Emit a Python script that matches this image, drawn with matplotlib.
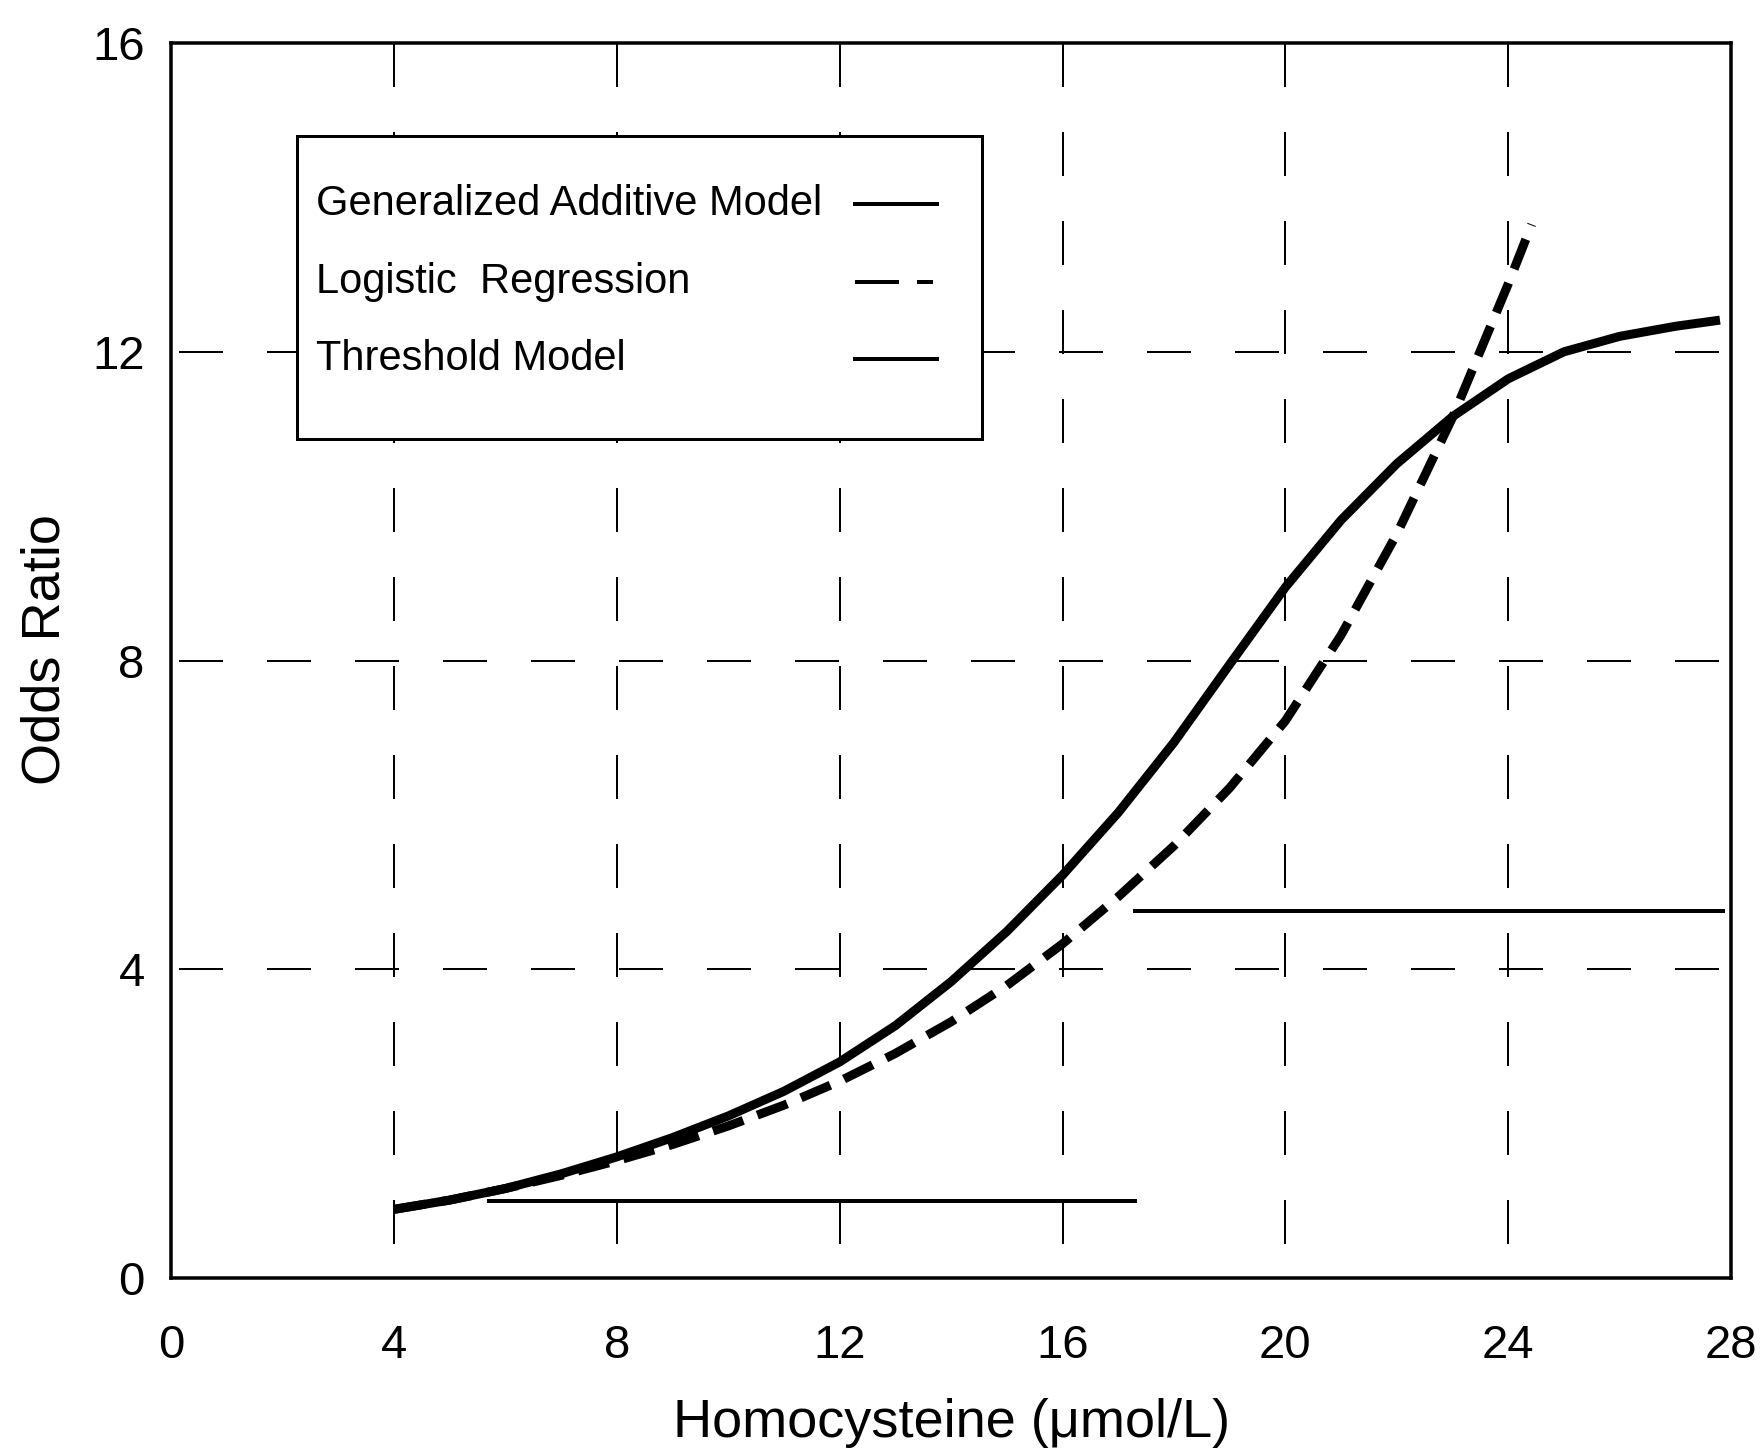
import numpy as np
import matplotlib
matplotlib.use("Agg")
import matplotlib.pyplot as plt
from matplotlib.patches import Rectangle

plt.rcParams['font.family'] = ['Liberation Sans', 'DejaVu Sans']
plt.rcParams['lines.scale_dashes'] = False

# values
gam_x = [4, 5, 6, 7, 8, 9, 10, 11, 12, 13, 14, 15, 16, 17, 18, 19, 20, 21, 22, 23,
         24, 25, 26, 27, 27.8]
gam_y = [0.89, 1.01, 1.16, 1.35, 1.57, 1.82, 2.10, 2.42, 2.80, 3.27, 3.84, 4.49, 5.22,
         6.03, 6.94, 7.95, 8.95, 9.82, 10.55, 11.16, 11.65, 12.00, 12.20, 12.33, 12.41]

logit_x = [4, 5, 6, 7, 8, 9, 10, 11, 12, 13, 14, 15, 16, 17, 18, 19, 20, 21, 22, 23,
           24, 24.42]
logit_y = [0.89, 1.01, 1.16, 1.33, 1.52, 1.73, 1.97, 2.24, 2.55, 2.91, 3.32, 3.79, 4.33,
           4.94, 5.60, 6.35, 7.22, 8.33, 9.64, 11.15, 12.88, 13.65]

thresh_low_x = [5.7, 17.3]
thresh_low_y = [1.0, 1.0]
thresh_high_x = [17.3, 27.85]
thresh_high_y = [4.76, 4.76]

x_ticks = [0, 4, 8, 12, 16, 20, 24, 28]
y_ticks = [0, 4, 8, 12, 16]
x_grid = [4, 8, 12, 16, 20, 24]
y_grid = [4, 8, 12]

legend_labels = ['Generalized Additive Model', 'Logistic  Regression', 'Threshold Model']

px = 0.72  # points per pixel at dpi 100

fig = plt.figure(figsize=(17.6, 14.53), dpi=100)
ax = fig.add_axes([0.0972, 0.1204, 0.8864, 0.850])
ax.set_xlim(0, 28)
ax.set_ylim(0, 16)

# dashed grid
for gx in x_grid:
    ax.plot([gx, gx], [16, 0], color='black', lw=2 * px,
            linestyle=(0, (44 * px, 45 * px)), zorder=1)
for gy in y_grid:
    ax.plot([0, 28], [gy, gy], color='black', lw=2 * px,
            linestyle=(80 * px, (44 * px, 44 * px)), zorder=1)

# curves
ax.plot(gam_x, gam_y, color='black', lw=9 * px, solid_capstyle='butt',
        solid_joinstyle='round', zorder=4)
ax.plot(logit_x, logit_y, color='black', lw=9 * px,
        linestyle=(0, (32 * px, 15 * px)), dash_capstyle='butt', zorder=4)
ax.plot(thresh_low_x, thresh_low_y, color='black', lw=4 * px, zorder=3)
ax.plot(thresh_high_x, thresh_high_y, color='black', lw=4 * px, zorder=3)

# legend box drawn by hand
ax.add_patch(Rectangle((0.081, 0.6794), 0.439, 0.2455, transform=ax.transAxes,
                       facecolor='white', edgecolor='black', lw=3 * px, zorder=5))
rows = [0.8694, 0.8067, 0.744]
for lab, ry in zip(legend_labels, rows):
    ax.text(0.0926, ry, lab, transform=ax.transAxes, fontsize=30,
            ha='left', va='center', zorder=6)
sample_x = [0.4386, 0.4912]
ax.plot(sample_x, [rows[0]] * 2, transform=ax.transAxes,
        color='black', lw=4 * px, zorder=6)
ax.plot(sample_x, [rows[1]] * 2, transform=ax.transAxes,
        color='black', lw=4 * px, linestyle=(0, (44 * px, 18 * px, 16 * px, 100)), zorder=6)
ax.plot(sample_x, [rows[2]] * 2, transform=ax.transAxes,
        color='black', lw=4 * px, zorder=6)

for s in ax.spines.values():
    s.set_linewidth(3.5 * px)

ax.set_xticks(x_ticks)
ax.set_yticks(y_ticks)
ax.tick_params(axis='both', length=0, labelsize=34)
ax.tick_params(axis='x', pad=33)
ax.tick_params(axis='y', pad=19)

ax.set_xlabel('Homocysteine (\u03bcmol/L)', fontsize=39, ha='center', va='center')
ax.xaxis.set_label_coords(0.5, -0.1174)
ax.set_ylabel('Odds Ratio', fontsize=39, ha='center', va='center')
ax.yaxis.set_label_coords(-0.0808, 0.509)

fig.savefig('out.png', dpi=100)
